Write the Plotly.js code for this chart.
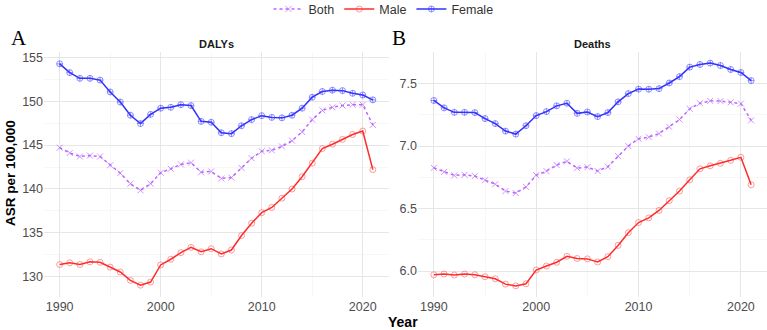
<!DOCTYPE html>
<html>
<head>
<meta charset="utf-8">
<script src="https://cdn.plot.ly/plotly-3.0.1.min.js"></script>
<style>html,body{margin:0;padding:0;background:#fff}#chart{width:767px;height:330px}</style>
</head>
<body>
<div id="chart"></div>
<script>
var years = [1990,1991,1992,1993,1994,1995,1996,1997,1998,1999,2000,2001,2002,2003,2004,2005,2006,2007,2008,2009,2010,2011,2012,2013,2014,2015,2016,2017,2018,2019,2020,2021];

var dalysBoth = [144.7,144.1,143.7,143.8,143.7,142.7,141.8,140.6,139.85,140.6,141.85,142.3,142.8,143.0,141.9,142.0,141.2,141.3,142.4,143.5,144.3,144.4,144.85,145.5,146.5,147.9,148.95,149.3,149.5,149.6,149.6,147.3];
var dalysMale = [131.4,131.6,131.4,131.7,131.65,131.1,130.55,129.6,129.05,129.4,131.35,132.0,132.75,133.35,132.85,133.2,132.6,133.05,134.7,136.1,137.3,137.9,138.95,140.0,141.4,142.95,144.6,145.1,145.65,146.2,146.6,142.2];
var dalysFemale = [154.25,153.25,152.6,152.6,152.4,151.05,149.9,148.4,147.45,148.5,149.2,149.3,149.6,149.5,147.7,147.6,146.4,146.3,147.2,147.9,148.35,148.15,148.1,148.4,149.2,150.45,151.1,151.25,151.2,150.9,150.7,150.15];

var deathsBoth = [6.826,6.794,6.765,6.77,6.76,6.727,6.695,6.64,6.624,6.673,6.767,6.80,6.848,6.878,6.824,6.832,6.80,6.835,6.92,7.0,7.058,7.072,7.10,7.153,7.212,7.298,7.343,7.362,7.36,7.35,7.34,7.206];
var deathsMale = [5.97,5.976,5.968,5.976,5.97,5.954,5.938,5.895,5.881,5.898,6.008,6.04,6.07,6.118,6.10,6.097,6.072,6.115,6.205,6.307,6.388,6.425,6.485,6.563,6.64,6.73,6.818,6.842,6.862,6.886,6.91,6.69];
var deathsFemale = [7.365,7.306,7.27,7.27,7.268,7.22,7.18,7.12,7.096,7.163,7.244,7.276,7.322,7.343,7.262,7.273,7.236,7.268,7.354,7.42,7.456,7.455,7.46,7.505,7.556,7.632,7.653,7.664,7.645,7.613,7.589,7.524];

var seriesNames = ["Both","Male","Female"];
var panelTitles = ["DALYs","Deaths"];
var panelLetters = ["A","B"];

var W = 767, H = 330;
function fx(p){return p/W;}
function fy(p){return 1 - p/H;}

var styles = {
  Both:   {line:{color:"#BB66FF",width:1.5,dash:"dot"}, marker:{symbol:"x-thin-open",size:6,color:"rgba(187,102,255,0.7)",line:{color:"rgba(187,102,255,0.7)",width:1}}},
  Male:   {line:{color:"#FF2A2A",width:1.5}, marker:{symbol:"circle-open",size:6,color:"rgba(255,60,60,0.5)",line:{color:"rgba(255,60,60,0.5)",width:1}}},
  Female: {line:{color:"#3030FF",width:1.5}, marker:{symbol:"circle-cross-open",size:6,color:"rgba(60,60,255,0.55)",line:{color:"rgba(60,60,255,0.55)",width:1}}}
};

var data = [];
var panels = [[dalysBoth,dalysMale,dalysFemale],[deathsBoth,deathsMale,deathsFemale]];
panels.forEach(function(vals,pi){
  vals.forEach(function(v,si){
    var nm = seriesNames[si];
    data.push({
      x: years, y: v, type:"scatter", mode:"lines+markers", name: nm,
      legendgroup: nm, showlegend: pi===0,
      line: styles[nm].line, marker: styles[nm].marker,
      xaxis: pi===0 ? "x" : "x2", yaxis: pi===0 ? "y" : "y2"
    });
  });
});

var gridMajor = "#E6E6E6", gridMinor = "#F2F2F2";
var tickFont = {family:"Liberation Sans, Arial, sans-serif", size:12.5, color:"#4D4D4D"};
function xax(d){
  return {domain:d, range:[1988.45,2022.55], tickvals:[1990,2000,2010,2020], showgrid:true, gridcolor:gridMajor, gridwidth:1,
    zeroline:false, showline:false, ticks:"", tickfont:tickFont, automargin:false, ticklabelstandoff:0,
    minor:{tickvals:[1995,2005,2015], showgrid:true, gridcolor:gridMinor, gridwidth:0.6}};
}
function yax(d,r,tv,mv,fmt,anchor){
  return {domain:d, range:r, tickvals:tv, tickformat:fmt, showgrid:true, gridcolor:gridMajor, gridwidth:1, anchor:anchor,
    zeroline:false, showline:false, ticks:"", tickfont:tickFont, automargin:false,
    minor:{tickvals:mv, showgrid:true, gridcolor:gridMinor, gridwidth:0.6}};
}

function ann(text, px, py, font, angle){
  var a = {text:text, xref:"paper", yref:"paper", x:fx(px), y:fy(py), xanchor:"center", yanchor:"middle", showarrow:false, font:font};
  if (angle) a.textangle = angle;
  return a;
}

var yd = [fy(297), fy(52)];
var serif = "Liberation Serif, Times New Roman, serif";
var layout = {
  width: W, height: H,
  margin:{l:0,r:0,t:0,b:0,pad:0,autoexpand:false},
  paper_bgcolor:"#fff", plot_bgcolor:"#fff",
  font:{family:"Liberation Sans, Arial, sans-serif"},
  showlegend:true,
  legend:{orientation:"h", x:0.5, xanchor:"center", y:1.017, yanchor:"top", font:{size:12.5,color:"#333"}, itemwidth:30, tracegroupgap:0, bgcolor:"rgba(0,0,0,0)"},
  xaxis: xax([fx(44), fx(388.5)]),
  xaxis2: xax([fx(418), fx(767)]),
  yaxis: yax(yd,[127.7,155.6],[130,135,140,145,150,155],[127.5,132.5,137.5,142.5,147.5,152.5],"d","x"),
  yaxis2: yax(yd,[5.792,7.753],[6.0,6.5,7.0,7.5],[5.75,6.25,6.75,7.25,7.75],".1f","x2"),
  annotations:[
    ann("<b>" + panelTitles[0] + "</b>", 216, 44, {size:11,color:"#1a1a1a"}),
    ann("<b>" + panelTitles[1] + "</b>", 592, 44, {size:11,color:"#1a1a1a"}),
    ann(panelLetters[0], 19, 38, {size:21,family:serif,color:"#000"}),
    ann(panelLetters[1], 399, 38, {size:21,family:serif,color:"#000"}),
    ann("<b>ASR per 100,000</b>", 10, 173, {size:13.5,color:"#000"}, -90),
    ann("<b>Year</b>", 403, 322, {size:14,color:"#000"})
  ]
};

Plotly.newPlot("chart", data, layout, {displayModeBar:false, staticPlot:true});
</script>
</body>
</html>
